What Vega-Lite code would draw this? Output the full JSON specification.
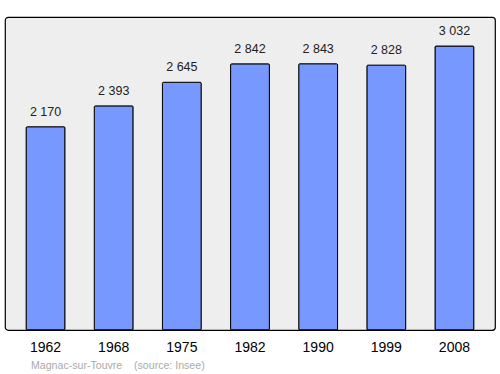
{
  "$schema": "https://vega.github.io/schema/vega-lite/v6.json",
  "width": 490,
  "height": 313,
  "autosize": {"type": "none"},
  "padding": {"left": 5, "top": 17, "right": 5, "bottom": 44},
  "background": "white",
  "config": {
    "font": "Liberation Sans",
    "view": {"fill": "#eeeeee", "stroke": "#000000", "strokeWidth": 1.2, "cornerRadius": 3}
  },
  "title": {
    "text": "Magnac-sur-Touvre \u00a0\u00a0\u00a0(source: Insee)",
    "orient": "bottom",
    "anchor": "start",
    "frame": "group",
    "fontSize": 10.6,
    "fontWeight": "normal",
    "color": "#aaaaaa",
    "font": "Liberation Sans",
    "offset": 7,
    "dx": 26
  },
  "data": {
    "values": [
      {"year": "1962", "pop": 2170, "label": "2 170"},
      {"year": "1968", "pop": 2393, "label": "2 393"},
      {"year": "1975", "pop": 2645, "label": "2 645"},
      {"year": "1982", "pop": 2842, "label": "2 842"},
      {"year": "1990", "pop": 2843, "label": "2 843"},
      {"year": "1999", "pop": 2828, "label": "2 828"},
      {"year": "2008", "pop": 3032, "label": "3 032"}
    ]
  },
  "encoding": {
    "x": {
      "field": "year",
      "type": "nominal",
      "sort": null,
      "scale": {"paddingInner": 0.43, "paddingOuter": 0.31},
      "axis": {
        "title": null,
        "labelAngle": 0,
        "ticks": false,
        "domain": false,
        "labelFontSize": 14,
        "labelColor": "#000000",
        "labelPadding": 10,
        "labelFont": "Liberation Sans"
      }
    },
    "y": {
      "field": "pop",
      "type": "quantitative",
      "scale": {"domain": [0, 3342], "nice": false, "zero": true},
      "axis": null
    }
  },
  "layer": [
    {
      "mark": {"type": "bar", "fill": "#7799ff", "stroke": "#000000", "strokeWidth": 1, "cornerRadius": 1}
    },
    {
      "mark": {"type": "text", "baseline": "bottom", "dy": -8, "fontSize": 12.5, "color": "#222222", "font": "Liberation Sans"},
      "encoding": {"text": {"field": "label"}}
    }
  ]
}
